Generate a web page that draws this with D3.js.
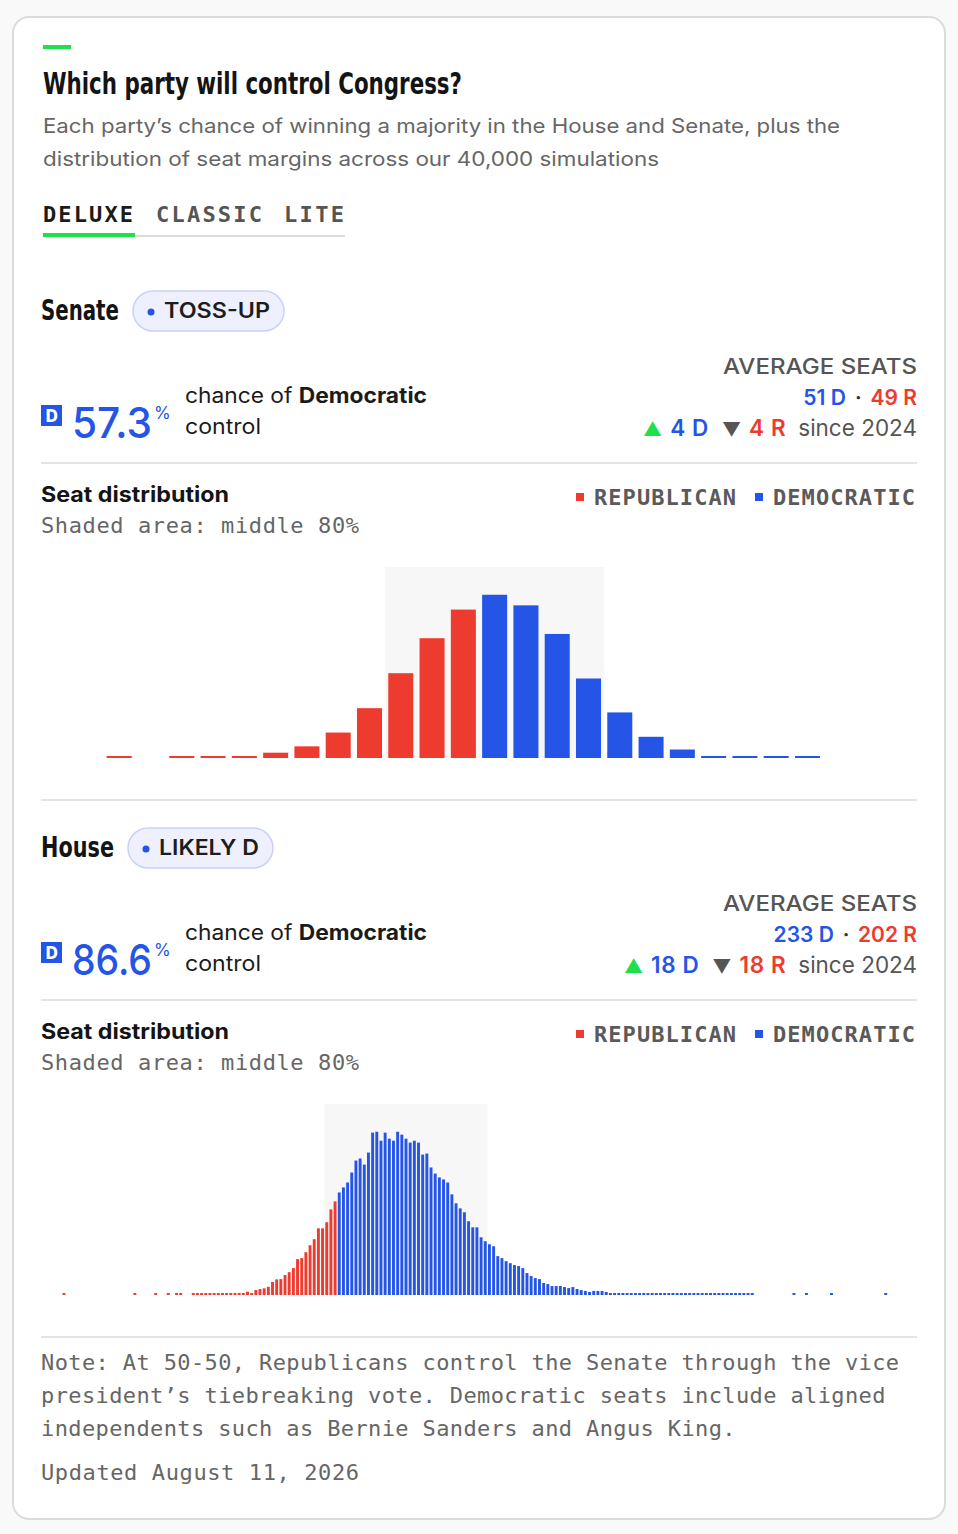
<!DOCTYPE html>
<html>
<head>
<meta charset="utf-8">
<script src="https://cdn.jsdelivr.net/npm/d3@7"></script>
<style>
  html, body { margin: 0; padding: 0; background: #f9f9f9; }
  svg { display: block; }
  .sans { font-family: Inter, "Noto Sans", "Liberation Sans", sans-serif; }
  .cond { font-family: "Liberation Sans Narrow", "DejaVu Sans Condensed", "Liberation Sans", sans-serif; font-weight: 700; }
  .mono { font-family: "DejaVu Sans Mono", "Liberation Mono", monospace; }
</style>
</head>
<body>
<svg id="chart"></svg>
<script>
// senate: democratic seats -> share of simulations (%)
const senateSeats = [39, 41, 42, 43, 44, 45, 46, 47, 48, 49, 50, 51, 52, 53, 54, 55, 56, 57, 58, 59, 60, 61];
const senatePct = [0.1, 0.1, 0.1, 0.1, 0.5, 1.1, 2.4, 4.7, 8.0, 11.3, 14.0, 15.4, 14.4, 11.7, 7.5, 4.3, 2.0, 0.8, 0.1, 0.1, 0.1, 0.1];

// house: democratic seats 183..317 -> number of simulations (of 40,000)
const houseFirstSeat = 183;
const houseCounts = [
  6, 6, 7, 7, 8, 8, 8, 9, 9, 10, 10, 11, 11,          // 183-195
  23, 12, 34, 41, 46, 57, 90, 108, 110, 138, 158, 186, // 196-207
  248, 255, 296, 344, 386, 461, 461, 503, 592, 647,    // 208-217
  709, 744, 778, 847, 930, 944, 902, 985, 1123, 1129,  // 218-227
  1067, 1123, 1081, 1067, 1129, 1109, 1081, 1054, 1067, 1054, // 228-237
  971, 978, 882, 840, 813, 799, 778, 696, 634, 599,    // 238-247
  572, 510, 468, 468, 399, 372, 351, 337, 269, 255,    // 248-257
  234, 220, 207, 200, 186, 152, 131, 117, 110, 83,     // 258-267
  76, 62, 62, 62, 55, 48, 55, 41, 34, 28,              // 268-277
  21, 28, 28, 28, 21, 12, 12, 11, 11, 10,              // 278-287
  10, 9, 9, 9, 8, 8, 8, 7, 7, 7,                       // 288-297
  7, 6, 6, 6, 6, 6, 5, 5, 5, 5,                        // 298-307
  5, 5, 4, 4, 4, 4, 4, 4, 4, 4                         // 308-317
];
const houseOutlierSeats = [152, 169, 174, 177, 179, 180, 327, 330, 336, 349];
const houseOutlierCounts = [3, 3, 3, 3, 3, 3, 3, 3, 3, 3];

const sections = [
  { name: "Senate", rating: "TOSS-UP", pct: "57.3", avg: ["51", "49"], change: ["4", "4"],
    seats: senateSeats, values: senatePct, domain: [37, 64], majority: 51, pad: 0.2, off: 0 },
  { name: "House", rating: "LIKELY D", pct: "86.6", avg: ["233", "202"], change: ["18", "18"],
    seats: houseCounts.map((c, i) => houseFirstSeat + i).concat(houseOutlierSeats),
    values: houseCounts.concat(houseOutlierCounts), domain: [147, 356], majority: 218, pad: 0.3, off: 537 }
];

const noteLines = [
  "Note: At 50-50, Republicans control the Senate through the vice",
  "president\u2019s tiebreaking vote. Democratic seats include aligned",
  "independents such as Bernie Sanders and Angus King."
];

const W = 958, H = 1534;
const RED = "#ee3b30", BLUE = "#2455e6", GREEN = "#1fe04a";
const left = 41, right = 917;

const svg = d3.select("#chart").attr("width", W).attr("height", H);

// squeeze/stretch a text to a measured width
function fit(sel, w, glyphs) {
  sel.attr("textLength", w).attr("lengthAdjust", glyphs ? "spacingAndGlyphs" : "spacing");
  return sel;
}

// card
svg.append("rect").attr("x", 13).attr("y", 17).attr("width", 932).attr("height", 1502)
  .attr("rx", 16).attr("fill", "#fff").attr("stroke", "#dcdcdc").attr("stroke-width", 2);

svg.append("rect").attr("x", 43).attr("y", 45).attr("width", 28).attr("height", 4).attr("fill", GREEN);

fit(svg.append("text").attr("class", "cond").attr("x", 43).attr("y", 94)
  .attr("font-size", 31).attr("fill", "#141414").text("Which party will control Congress?"), 419, true);

const sub = ["Each party\u2019s chance of winning a majority in the House and Senate, plus the",
  "distribution of seat margins across our 40,000 simulations"];
fit(svg.append("text").attr("class", "sans").attr("x", 43).attr("y", 133).attr("font-size", 20)
  .attr("fill", "#666").text(sub[0]), 797, true);
fit(svg.append("text").attr("class", "sans").attr("x", 43).attr("y", 166).attr("font-size", 20)
  .attr("fill", "#666").text(sub[1]), 616, true);

// tabs
const tabs = [["DELUXE", 43, 90, "#1b1b1b"], ["CLASSIC", 156, 106, "#555"], ["LITE", 284, 60, "#555"]];
tabs.forEach(t => {
  fit(svg.append("text").attr("class", "mono").attr("x", t[1]).attr("y", 222).attr("font-size", 22)
    .attr("font-weight", 700).attr("fill", t[3]).text(t[0]), t[2]);
});
svg.append("rect").attr("x", 43).attr("y", 235).attr("width", 302).attr("height", 2).attr("fill", "#ddd");
svg.append("rect").attr("x", 43).attr("y", 233).attr("width", 92).attr("height", 4).attr("fill", GREEN);

sections.forEach(s => {
  const g = svg.append("g").attr("transform", `translate(0,${s.off})`);
  const isSenate = s.name === "Senate";

  // heading + rating pill
  fit(g.append("text").attr("class", "cond").attr("x", left).attr("y", 320)
    .attr("font-size", 28).attr("fill", "#141414").text(s.name), isSenate ? 78 : 73, true);
  const px = isSenate ? 133 : 128, pw = isSenate ? 151 : 145;
  g.append("rect").attr("x", px).attr("y", 291).attr("width", pw).attr("height", 40).attr("rx", 20)
    .attr("fill", "#eef1fd").attr("stroke", "#c8d2f6").attr("stroke-width", 1.5);
  g.append("circle").attr("cx", px + 18).attr("cy", 312).attr("r", 3.5).attr("fill", BLUE);
  fit(g.append("text").attr("class", "sans").attr("x", px + 31).attr("y", 318).attr("font-size", 21)
    .attr("font-weight", 600).attr("fill", "#1d1d1d").text(s.rating), isSenate ? 106 : 100, true);

  // probability
  g.append("rect").attr("x", 41).attr("y", 405).attr("width", 21).attr("height", 21).attr("fill", BLUE);
  g.append("text").attr("class", "cond").attr("x", 51.5).attr("y", 422).attr("text-anchor", "middle")
    .attr("font-size", 17).attr("fill", "#fff").text("D");
  const big = g.append("text").attr("class", "sans").attr("font-size", 43)
    .attr("font-weight", 500).attr("fill", BLUE).text(s.pct);
  const bw = big.node().getComputedTextLength();
  big.attr("transform", `translate(72,438) scale(${80 / bw},1)`);
  g.append("text").attr("class", "sans").attr("x", 154).attr("y", 419).attr("font-size", 17)
    .attr("fill", BLUE).text("%");
  const ch = g.append("text").attr("class", "sans").attr("x", 185).attr("y", 403).attr("font-size", 21)
    .attr("fill", "#1b1b1b");
  ch.append("tspan").text("chance of ");
  ch.append("tspan").attr("font-weight", 700).text("Democratic");
  fit(ch, 242, true);
  fit(g.append("text").attr("class", "sans").attr("x", 185).attr("y", 434).attr("font-size", 21)
    .attr("fill", "#1b1b1b").text("control"), 76, true);

  // average seats
  fit(g.append("text").attr("class", "sans").attr("x", right).attr("y", 374).attr("text-anchor", "end")
    .attr("font-size", 21).attr("font-weight", 500).attr("fill", "#555")
    .text("AVERAGE SEATS"), 194, true);
  const av = g.append("text").attr("class", "sans").attr("x", right).attr("y", 405).attr("text-anchor", "end")
    .attr("font-size", 21).attr("font-weight", 600);
  av.append("tspan").attr("fill", BLUE).text(`${s.avg[0]} D`);
  av.append("tspan").attr("fill", "#333").attr("dx", 9).text("\u00b7");
  av.append("tspan").attr("fill", RED).attr("dx", 9).text(`${s.avg[1]} R`);
  const cg = g.append("text").attr("class", "sans").attr("x", right).attr("y", 436).attr("text-anchor", "end")
    .attr("font-size", 22.5);
  cg.append("tspan").attr("fill", GREEN).attr("font-size", 19).text("\u25b2");
  cg.append("tspan").attr("fill", BLUE).attr("font-weight", 600).attr("dx", 8).attr("letter-spacing", 0.6)
    .text(`${s.change[0]} D`);
  cg.append("tspan").attr("fill", "#555").attr("font-size", 19).attr("dx", 13).attr("letter-spacing", 0).text("\u25bc");
  cg.append("tspan").attr("fill", RED).attr("font-weight", 600).attr("dx", 8).attr("letter-spacing", 0.6)
    .text(`${s.change[1]} R`);
  cg.append("tspan").attr("fill", "#555").attr("dx", 12).attr("letter-spacing", 0).text("since 2024");

  g.append("rect").attr("x", left).attr("y", 462).attr("width", right - left).attr("height", 2).attr("fill", "#e4e4e4");

  // distribution header + legend
  fit(g.append("text").attr("class", "sans").attr("x", left).attr("y", 502).attr("font-size", 21)
    .attr("font-weight", 700).attr("fill", "#141414").text("Seat distribution"), 188, true);
  fit(g.append("text").attr("class", "mono").attr("x", left).attr("y", 533).attr("font-size", 22)
    .attr("fill", "#666").text("Shaded area: middle 80%"), 318);
  [[576, RED, "REPUBLICAN", 142], [755, BLUE, "DEMOCRATIC", 142]].forEach(l => {
    g.append("rect").attr("x", l[0]).attr("y", 493).attr("width", 8).attr("height", 8).attr("fill", l[1]);
    fit(g.append("text").attr("class", "mono").attr("x", l[0] + 18).attr("y", 505).attr("font-size", 22)
      .attr("font-weight", 600).attr("fill", "#5a5a5a").text(l[2]), l[3]);
  });

  // histogram
  const top = 567, base = 758;
  const x = d3.scaleBand().domain(d3.range(s.domain[0], s.domain[1] + 1))
    .range([left, right]).paddingInner(s.pad).paddingOuter(s.pad / 2);
  const vmax = d3.max(s.values);
  const y = d3.scaleLinear().domain([0, vmax * 1.17]).range([base, top]);

  // middle 80% band from the cumulative distribution
  const rows = s.seats.map((k, i) => ({ k, v: s.values[i] })).sort((a, b) => a.k - b.k);
  const total = d3.sum(rows, d => d.v);
  let acc = 0, lo = null, hi = null;
  rows.forEach(r => {
    acc += r.v;
    if (lo === null && acc >= total * 0.1) lo = r.k;
    if (hi === null && acc >= total * 0.9) hi = r.k;
  });
  const step = x.step();
  const bandX0 = x(lo) - step * s.pad / 2, bandX1 = x(hi) + x.bandwidth() + step * s.pad / 2;
  g.append("rect").attr("x", bandX0).attr("y", top).attr("width", bandX1 - bandX0)
    .attr("height", base - top).attr("fill", "#f7f7f7");

  g.append("g").selectAll("rect").data(rows).join("rect")
    .attr("x", d => x(d.k))
    .attr("width", x.bandwidth())
    .attr("y", d => Math.min(y(d.v), base - 2))
    .attr("height", d => Math.max(base - y(d.v), 2))
    .attr("fill", d => d.k >= s.majority ? BLUE : RED);

  g.append("rect").attr("x", left).attr("y", 799).attr("width", right - left).attr("height", 2).attr("fill", "#e4e4e4");
});

// footnote
noteLines.forEach((t, i) => {
  const n = svg.append("text").attr("class", "mono").attr("x", left).attr("y", 1370 + i * 33)
    .attr("font-size", 22).attr("fill", "#666").text(t);
  fit(n, t.length * 13.62);
});
fit(svg.append("text").attr("class", "mono").attr("x", left).attr("y", 1480).attr("font-size", 22)
  .attr("fill", "#666").text("Updated August 11, 2026"), 318);
</script>
</body>
</html>
